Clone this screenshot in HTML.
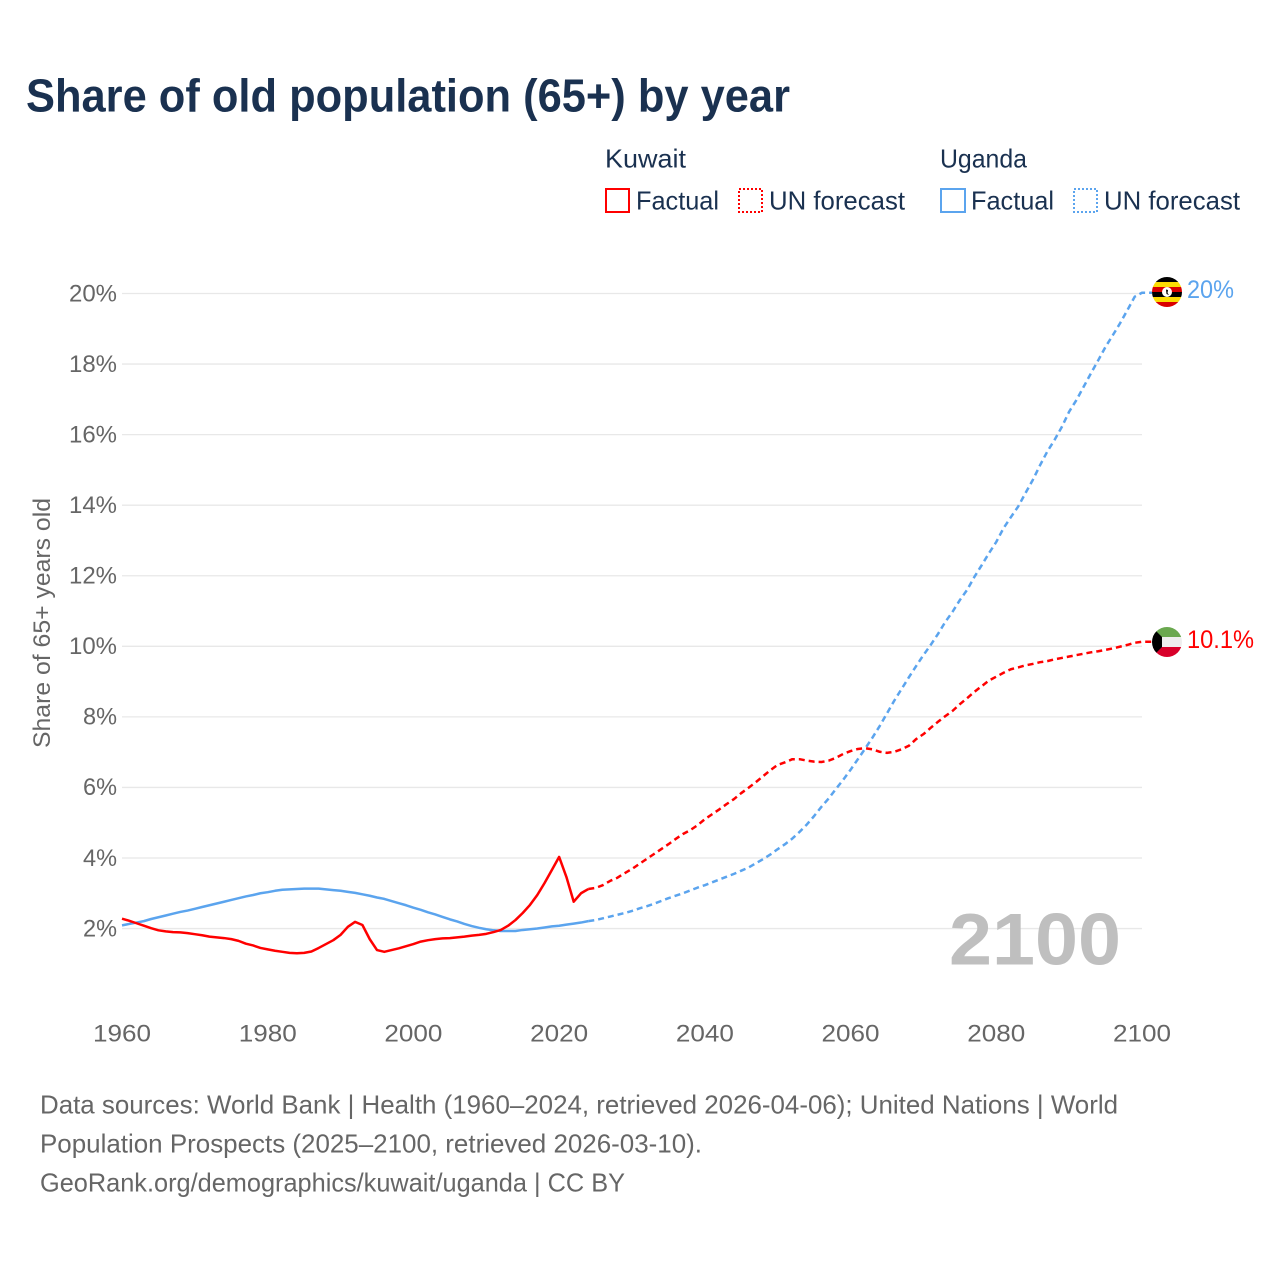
<!DOCTYPE html>
<html lang="en">
<head>
<meta charset="utf-8">
<title>Share of old population (65+) by year</title>
<style>
html,body{margin:0;padding:0;background:#fff;width:1280px;height:1280px;overflow:hidden}
svg{display:block}
text{font-family:"Liberation Sans",sans-serif}
</style>
</head>
<body>
<svg id="chart" width="1280" height="1280" viewBox="0 0 1280 1280" xmlns="http://www.w3.org/2000/svg">
<defs>
<clipPath id="flag-clip-ug"><circle cx="1167" cy="292" r="15"/></clipPath>
<clipPath id="flag-clip-kw"><circle cx="1167" cy="642" r="15"/></clipPath>
</defs>
<rect width="1280" height="1280" fill="#fff"/>
<text x="26" y="111.500" font-size="46" font-weight="700" fill="#1a3150" textLength="764" lengthAdjust="spacingAndGlyphs">Share of old population (65+) by year</text>

<g font-size="26" fill="#1a3150">
<text x="605" y="167.300" textLength="81" lengthAdjust="spacingAndGlyphs">Kuwait</text>
<rect x="606" y="189" width="23" height="23" fill="none" stroke="#ff0000" stroke-width="2"/>
<text x="636" y="209.300" textLength="83" lengthAdjust="spacingAndGlyphs">Factual</text>
<rect x="739" y="189" width="23" height="23" fill="none" stroke="#ff0000" stroke-width="2" stroke-dasharray="2 2"/>
<text x="769" y="209.300" textLength="136" lengthAdjust="spacingAndGlyphs">UN forecast</text>
<text x="940" y="167.300" textLength="87" lengthAdjust="spacingAndGlyphs">Uganda</text>
<rect x="941" y="189" width="24" height="23" fill="none" stroke="#5ba4ee" stroke-width="2"/>
<text x="971" y="209.300" textLength="83" lengthAdjust="spacingAndGlyphs">Factual</text>
<rect x="1074" y="189" width="23" height="23" fill="none" stroke="#5ba4ee" stroke-width="2" stroke-dasharray="2 2"/>
<text x="1104" y="209.300" textLength="136" lengthAdjust="spacingAndGlyphs">UN forecast</text>
</g>

<text transform="translate(50,748) rotate(-90)" font-size="24" fill="#666666" textLength="250" lengthAdjust="spacingAndGlyphs">Share of 65+ years old</text>

<g id="grid"></g>
<g id="yticks"></g>
<g id="xticks"></g>

<text x="949" y="964.500" font-size="73" font-weight="700" fill="#bfbfbf" textLength="172" lengthAdjust="spacingAndGlyphs">2100</text>

<g id="series"></g>

<g clip-path="url(#flag-clip-ug)">
<rect x="1152" y="277" width="30" height="5" fill="#000"/>
<rect x="1152" y="282" width="30" height="5" fill="#fcdc04"/>
<rect x="1152" y="287" width="30" height="5" fill="#d90000"/>
<rect x="1152" y="292" width="30" height="5" fill="#000"/>
<rect x="1152" y="297" width="30" height="5" fill="#fcdc04"/>
<rect x="1152" y="302" width="30" height="5" fill="#d90000"/>
<circle cx="1167" cy="292" r="5" fill="#fff"/>
<path d="M1166 289.500 L1168 290 L1167.500 293 L1169 295 L1166.500 294 Z" fill="#000"/>
</g>
<g clip-path="url(#flag-clip-kw)">
<rect x="1152" y="627" width="30" height="10" fill="#6aa84f"/>
<rect x="1152" y="637" width="30" height="10" fill="#eeeeee"/>
<rect x="1152" y="647" width="30" height="10" fill="#d8002a"/>
<path d="M1152 627 L1162 637 L1162 647 L1152 657 Z" fill="#000"/>
</g>
<text x="1187" y="298" font-size="25" fill="#5ba4ee" textLength="47" lengthAdjust="spacingAndGlyphs">20%</text>
<text x="1187" y="648" font-size="25" fill="#ff0000" textLength="67" lengthAdjust="spacingAndGlyphs">10.1%</text>

<g font-size="26" fill="#666666">
<text x="40" y="1113.300" textLength="1078" lengthAdjust="spacingAndGlyphs">Data sources: World Bank | Health (1960–2024, retrieved 2026-04-06); United Nations | World</text>
<text x="40" y="1152.300" textLength="662" lengthAdjust="spacingAndGlyphs">Population Prospects (2025–2100, retrieved 2026-03-10).</text>
<text x="40" y="1191.300" textLength="585" lengthAdjust="spacingAndGlyphs">GeoRank.org/demographics/kuwait/uganda | CC BY</text>
</g>
</svg>
<script>
const yTickValues = [2,4,6,8,10,12,14,16,18,20];
const xTickYears = [1960,1980,2000,2020,2040,2060,2080,2100];
const startYear = 1960;
const lastFactualYear = 2024;

const kuwaitValues = [
2.28,2.22,2.15,2.08,2.01,1.95,1.92,1.90,1.89,1.87,1.84,1.81,1.77,1.75,1.73,1.70,1.65,1.57,1.52,1.45,
1.41,1.37,1.34,1.31,1.30,1.31,1.35,1.45,1.56,1.67,1.82,2.05,2.19,2.10,1.70,1.39,1.34,1.39,1.44,1.50,
1.56,1.63,1.67,1.70,1.72,1.73,1.75,1.77,1.80,1.82,1.85,1.90,1.96,2.08,2.24,2.44,2.67,2.95,3.29,3.66,
4.03,3.46,2.76,3.00,3.12,
3.15,3.23,3.35,3.44,3.57,3.69,3.83,3.97,4.11,4.25,4.39,4.54,4.68,4.79,4.93,5.10,5.24,5.38,5.53,5.67,
5.84,5.99,6.15,6.32,6.49,6.64,6.71,6.80,6.80,6.76,6.73,6.72,6.76,6.84,6.95,7.03,7.09,7.11,7.08,7.01,
6.98,7.01,7.08,7.18,7.37,7.51,7.69,7.86,8.02,8.17,8.36,8.53,8.71,8.87,9.03,9.14,9.25,9.35,9.40,9.46,
9.50,9.55,9.58,9.63,9.67,9.71,9.75,9.79,9.83,9.86,9.90,9.94,9.99,10.04,10.10,10.13
];
const ugandaValues = [
2.09,2.13,2.17,2.21,2.27,2.32,2.37,2.42,2.47,2.51,2.56,2.61,2.66,2.71,2.76,2.81,2.86,2.91,2.95,3.00,
3.03,3.07,3.10,3.11,3.12,3.13,3.13,3.13,3.11,3.09,3.07,3.04,3.01,2.97,2.93,2.88,2.84,2.78,2.72,2.66,
2.59,2.53,2.46,2.40,2.33,2.26,2.20,2.13,2.07,2.02,1.98,1.95,1.93,1.93,1.93,1.96,1.98,2.00,2.03,2.06,
2.08,2.11,2.14,2.17,2.21,
2.24,2.29,2.34,2.39,2.44,2.50,2.57,2.63,2.70,2.78,2.86,2.93,3.00,3.08,3.16,3.23,3.31,3.39,3.47,3.55,
3.64,3.73,3.85,3.97,4.10,4.25,4.39,4.55,4.74,4.95,5.19,5.45,5.69,5.96,6.22,6.50,6.80,7.10,7.41,7.74,
8.10,8.46,8.79,9.12,9.44,9.75,10.04,10.35,10.69,10.98,11.31,11.60,11.97,12.30,12.64,12.96,13.35,13.66,13.96,14.34,
14.71,15.13,15.52,15.85,16.22,16.65,16.98,17.36,17.74,18.11,18.49,18.82,19.16,19.53,19.91,20.02
];

const NS = 'http://www.w3.org/2000/svg';
function xScale(year){ return 122 + (year - 1960) * (1020 / 140); }
function yScale(value){ return 999.1 - value * 35.28; }

function linePath(values, fromYear, toYear, tail){
  let d = '';
  for (let yr = fromYear; yr <= toYear; yr++){
    const v = values[yr - startYear];
    d += (d ? 'L' : 'M') + xScale(yr).toFixed(2) + ' ' + yScale(v).toFixed(2) + ' ';
  }
  if (tail){
    d += 'L' + (xScale(toYear) + 10).toFixed(2) + ' ' + yScale(values[toYear - startYear]).toFixed(2);
  }
  return d;
}

const gridGroup = document.getElementById('grid');
const yGroup = document.getElementById('yticks');
yTickValues.forEach(function(v){
  const ln = document.createElementNS(NS, 'line');
  
  
  ln.setAttribute('x1', 122);
  ln.setAttribute('x2', 1142);
  ln.setAttribute('y1', yScale(v));
  ln.setAttribute('y2', yScale(v));
  ln.setAttribute('stroke', '#e8e8e8');
  ln.setAttribute('stroke-width', '1.3');
  gridGroup.appendChild(ln);
  const label = v + '%';
  const t = document.createElementNS(NS, 'text');
  
  
  const w = label.length === 3 ? 48 : 34;
  t.setAttribute('x', 117 - w);
  t.setAttribute('y', yScale(v) + 7.8);
  t.setAttribute('font-size', '24');
  t.setAttribute('fill', '#666666');
  t.setAttribute('textLength', w);
  t.setAttribute('lengthAdjust', 'spacingAndGlyphs');
  t.textContent = label;
  yGroup.appendChild(t);
});

const xGroup = document.getElementById('xticks');
xTickYears.forEach(function(yr){
  const t = document.createElementNS(NS, 'text');
  
  
  t.setAttribute('x', xScale(yr) - 29);
  t.setAttribute('y', 1041.3);
  t.setAttribute('font-size', '24');
  t.setAttribute('fill', '#666666');
  t.setAttribute('textLength', 58);
  t.setAttribute('lengthAdjust', 'spacingAndGlyphs');
  t.textContent = String(yr);
  xGroup.appendChild(t);
});

const seriesGroup = document.getElementById('series');
function addLine(d, color, dashed, name){
  const p = document.createElementNS(NS, 'path');
  
  
  p.setAttribute('d', d);
  p.setAttribute('fill', 'none');
  p.setAttribute('stroke', color);
  p.setAttribute('stroke-width', '2.5');
  p.setAttribute('stroke-linejoin', 'round');
  if (dashed) p.setAttribute('stroke-dasharray', '6 4');
  seriesGroup.appendChild(p);
}
const endYear = startYear + kuwaitValues.length - 1;
addLine(linePath(ugandaValues, startYear, lastFactualYear, false), '#5ba4ee', false, 'uganda-factual-line');
addLine(linePath(ugandaValues, lastFactualYear, endYear, true), '#5ba4ee', true, 'uganda-forecast-line');
addLine(linePath(kuwaitValues, startYear, lastFactualYear, false), '#ff0000', false, 'kuwait-factual-line');
addLine(linePath(kuwaitValues, lastFactualYear, endYear, true), '#ff0000', true, 'kuwait-forecast-line');
</script>
</body>
</html>
